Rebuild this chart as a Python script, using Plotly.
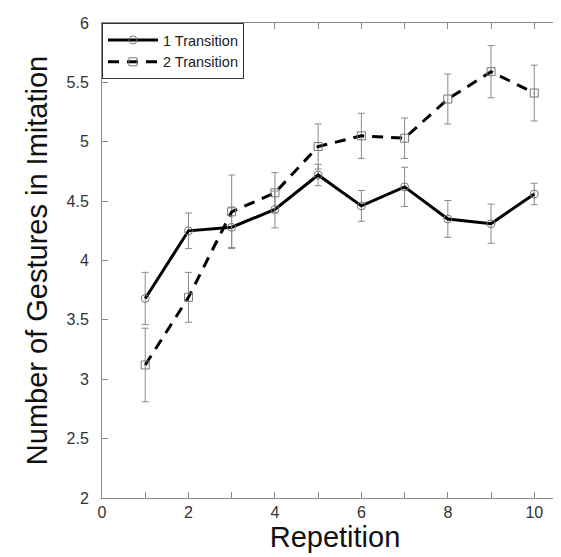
import plotly.graph_objects as go

repetition = [1, 2, 3, 4, 5, 6, 7, 8, 9, 10]
one_transition = [3.68, 4.25, 4.28, 4.43, 4.72, 4.46, 4.62, 4.35, 4.31, 4.56]
one_transition_err = [0.22, 0.15, 0.17, 0.155, 0.09, 0.13, 0.165, 0.155, 0.165, 0.09]
two_transition = [3.12, 3.69, 4.41, 4.57, 4.96, 5.05, 5.03, 5.36, 5.59, 5.41]
two_transition_err = [0.31, 0.21, 0.31, 0.17, 0.19, 0.19, 0.17, 0.21, 0.22, 0.235]

x_tickvals = [0, 1, 2, 3, 4, 5, 6, 7, 8, 9, 10]
x_ticktext = ["0", "", "2", "", "4", "", "6", "", "8", "", "10"]
y_tickvals = [2, 2.5, 3, 3.5, 4, 4.5, 5, 5.5, 6]
y_ticktext = ["2", "2.5", "3", "3.5", "4", "4.5", "5", "5.5", "6"]

FONT = "Liberation Sans, Arial, Helvetica, sans-serif"
GRAY = "#8a8a8a"

fig = go.Figure()
fig.add_trace(go.Scatter(
    x=repetition, y=one_transition, name="1 Transition", mode="lines+markers",
    line=dict(color="black", width=3, dash="solid"),
    marker=dict(symbol="circle-open", size=8, color="#777777", line=dict(width=1)),
    error_y=dict(type="data", array=one_transition_err, visible=True,
                 color=GRAY, thickness=1, width=3.5),
))
fig.add_trace(go.Scatter(
    x=repetition, y=two_transition, name="2 Transition", mode="lines+markers",
    line=dict(color="black", width=3, dash="11px,8px"),
    marker=dict(symbol="square-open", size=8, color="#777777", line=dict(width=1)),
    error_y=dict(type="data", array=two_transition_err, visible=True,
                 color=GRAY, thickness=1, width=3.5),
))

fig.update_layout(
    width=561, height=557,
    margin=dict(l=94, r=1, t=15, b=67),
    paper_bgcolor="white", plot_bgcolor="white",
    font=dict(family=FONT, color="#222222"),
    showlegend=True,
    legend=dict(x=0, y=1, xanchor="left", yanchor="top",
                bordercolor="#333333", borderwidth=1, bgcolor="white",
                font=dict(size=14.5, family=FONT, color="#222222"),
                tracegroupgap=0, itemwidth=50),
    xaxis=dict(
        range=[0, 10.78], tickvals=x_tickvals, ticktext=x_ticktext,
        ticks="inside", ticklen=6, tickcolor=GRAY, tickwidth=1,
        showline=True, linecolor=GRAY, linewidth=1, mirror="ticks",
        showgrid=False, zeroline=False,
        tickfont=dict(size=16, family=FONT, color="#333333"),
        title=dict(text="Repetition", font=dict(size=29, family=FONT, color="#111111"), standoff=5),
    ),
    yaxis=dict(
        range=[2, 6], tickvals=y_tickvals, ticktext=y_ticktext,
        ticks="inside", ticklen=6, tickcolor=GRAY, tickwidth=1,
        showline=True, linecolor=GRAY, linewidth=1, mirror="ticks",
        showgrid=False, zeroline=False, ticklabelstandoff=9,
        tickfont=dict(size=16, family=FONT, color="#333333"),
        title=dict(text="Number of Gestures in Imitation", font=dict(size=29, family=FONT, color="#111111"), standoff=10),
    ),
)

fig.write_html("out.html")
